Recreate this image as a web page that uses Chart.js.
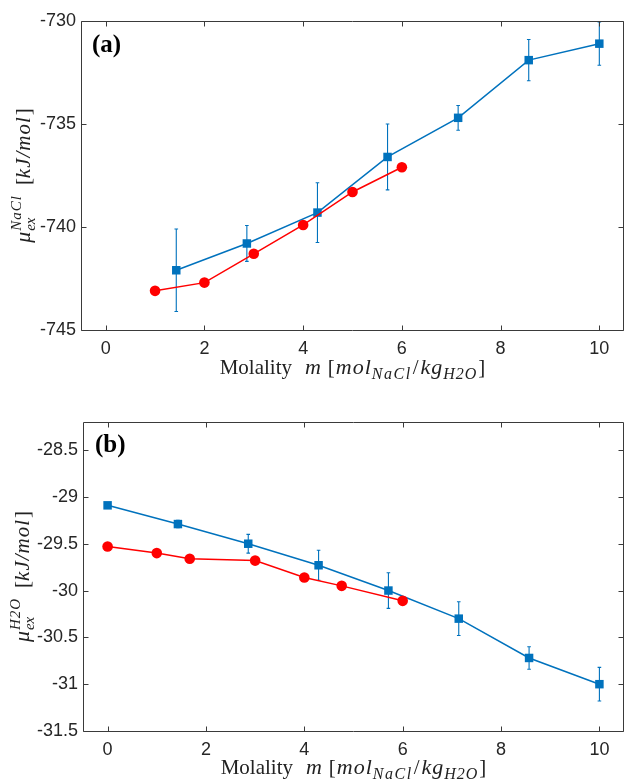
<!DOCTYPE html>
<html><head><meta charset="utf-8">
<script src="https://cdn.jsdelivr.net/npm/chart.js@4"></script>
<style>
html,body{margin:0;padding:0;background:#fff;}
#wrap{position:relative;width:625px;height:780px;overflow:hidden;}
canvas{position:absolute;left:0;}
</style></head><body>
<div id="wrap">
<canvas id="ca" width="640" height="390" style="top:0"></canvas>
<canvas id="cb" width="640" height="390" style="top:390px"></canvas>
</div>
<script>
// ---- data ----
const xTicks = [0, 2, 4, 6, 8, 10];
const yTicksA = [-745, -740, -735, -730];
const yTicksB = [-31.5, -31, -30.5, -30, -29.5, -29, -28.5];

// panel (a): NaCl excess chemical potential
const molA_blue = [1.43, 2.86, 4.29, 5.71, 7.14, 8.57, 10];
const muNaCl_blue = [-742.1, -740.8, -739.3, -736.6, -734.7, -731.9, -731.1];
const errNaCl_blue = [2.0, 0.87, 1.45, 1.6, 0.6, 1.0, 1.05];
const molA_red = [1, 2, 3, 4, 5, 6];
const muNaCl_red = [-743.1, -742.7, -741.3, -739.9, -738.3, -737.1];

// panel (b): H2O excess chemical potential
const molB_blue = [0, 1.43, 2.86, 4.29, 5.71, 7.14, 8.57, 10];
const muH2O_blue = [-29.09, -29.29, -29.5, -29.73, -30.0, -30.3, -30.72, -31.0];
const errH2O_blue = [0.03, 0.04, 0.1, 0.16, 0.19, 0.18, 0.12, 0.18];
const molB_red = [0, 1, 1.67, 3, 4, 4.76, 6];
const muH2O_red = [-29.53, -29.6, -29.66, -29.68, -29.86, -29.95, -30.11];

const BLUE = '#0072BD';
const RED = '#FF0000';
const AXIS = '#3a3a3a';
const SERIF = '"Liberation Serif", "DejaVu Serif", serif';

function segW(ctx, s){
  ctx.font = s.font;
  ctx.letterSpacing = (s.ls || 0) + 'px';
  const m = ctx.measureText(s.t).width;
  ctx.letterSpacing = '0px';
  return m;
}
function richWidth(ctx, segs){
  let w = 0;
  for (const s of segs){ const m = segW(ctx, s); if (!s.noAdv) w += m + (s.gap||0); }
  return w;
}
function drawRich(ctx, segs, x0, base){
  let x = x0;
  for (const s of segs){
    const m = segW(ctx, s);
    ctx.font = s.font;
    ctx.letterSpacing = (s.ls || 0) + 'px';
    ctx.fillText(s.t, x, base + (s.dy||0));
    ctx.letterSpacing = '0px';
    if (!s.noAdv) x += m + (s.gap||0);
  }
}
function xLabelSegs(){
  const R = '21px ' + SERIF, I = 'italic 22px ' + SERIF, S = 'italic 16px ' + SERIF;
  return [
    {t:'Molality', font:R, gap:13},
    {t:'m', font:I, gap:6, ls:1},
    {t:'[', font:R, gap:1},
    {t:'mol', font:I, ls:1},
    {t:'NaCl', font:S, dy:5, ls:1.5, gap:1},
    {t:'/', font:R, gap:2},
    {t:'kg', font:I, ls:1},
    {t:'H2O', font:S, dy:5, ls:1, gap:1},
    {t:']', font:R}
  ];
}
function yLabelSegs(sup){
  const R = '21px ' + SERIF, I = 'italic 22px ' + SERIF, S = 'italic 15px ' + SERIF;
  return [
    {t:'\u03BC', font:I, gap:1},
    {t:'ex', font:S, dy:5, noAdv:true},
    {t:sup, font:S, dy:-9, gap:10, ls:1},
    {t:'[', font:R},
    {t:'kJ/mol', font:'italic 21px ' + SERIF, gap:1, ls:1},
    {t:']', font:R}
  ];
}

function deco(o){
  return {
    id: 'deco' + o.id,
    beforeDatasetsDraw(chart){
      const ctx = chart.ctx, xs = chart.scales.x, ys = chart.scales.y;
      ctx.save();
      ctx.strokeStyle = BLUE; ctx.lineWidth = 1.1;
      o.blueX.forEach((x, i) => {
        const px = xs.getPixelForValue(x);
        const y1 = ys.getPixelForValue(o.blueY[i] + o.err[i]);
        const y2 = ys.getPixelForValue(o.blueY[i] - o.err[i]);
        ctx.beginPath();
        ctx.moveTo(px, y1); ctx.lineTo(px, y2);
        ctx.moveTo(px - 1.8, y1); ctx.lineTo(px + 1.8, y1);
        ctx.moveTo(px - 1.8, y2); ctx.lineTo(px + 1.8, y2);
        ctx.stroke();
      });
      ctx.restore();
    },
    afterDraw(chart){
      const ctx = chart.ctx, a = chart.chartArea, xs = chart.scales.x, ys = chart.scales.y;
      ctx.save();
      ctx.strokeStyle = AXIS; ctx.lineWidth = 1;
      const L = Math.round(a.left) + 0.5, R = Math.round(a.right) - 0.5, T = Math.round(a.top) + 0.5, B = Math.round(a.bottom) + 0.5;
      ctx.beginPath();
      ctx.moveTo(L, T); ctx.lineTo(R, T); ctx.lineTo(R, B); ctx.lineTo(L, B); ctx.closePath();
      const tl = 5;
      xTicks.forEach(v => {
        const p = Math.round(xs.getPixelForValue(v)) + 0.5;
        ctx.moveTo(p, B); ctx.lineTo(p, B - tl);
        ctx.moveTo(p, T); ctx.lineTo(p, T + tl);
      });
      o.yTicks.forEach(v => {
        const p = Math.round(ys.getPixelForValue(v)) + 0.5;
        ctx.moveTo(L, p); ctx.lineTo(L + tl, p);
        ctx.moveTo(R, p); ctx.lineTo(R - tl, p);
      });
      ctx.stroke();

      // panel label
      ctx.fillStyle = '#000';
      ctx.font = 'bold 25px ' + SERIF;
      ctx.textAlign = 'left'; ctx.textBaseline = 'alphabetic';
      ctx.fillText(o.panel, a.left + o.panelDx, a.top + o.panelDy);

      // x label
      ctx.fillStyle = '#222';
      const xs2 = xLabelSegs();
      const w = richWidth(ctx, xs2);
      drawRich(ctx, xs2, (a.left + a.right) / 2 - w / 2, o.xLabBase);

      // y label (rotated)
      const ys2 = yLabelSegs(o.sup);
      const wy = richWidth(ctx, ys2);
      ctx.save();
      ctx.translate(o.yLabX, (a.top + a.bottom) / 2);
      ctx.rotate(-Math.PI / 2);
      drawRich(ctx, ys2, -wy / 2, 0);
      ctx.restore();
      ctx.restore();
    }
  };
}

function build(id, o){
  return new Chart(document.getElementById(id), {
    type: 'line',
    data: { datasets: [
      { data: o.redX.map((x, i) => ({x, y: o.redY[i]})), borderColor: RED, backgroundColor: RED,
        pointBackgroundColor: RED, pointBorderWidth: 0, pointStyle: 'circle', pointRadius: 5.3,
        borderWidth: 1.5, tension: 0 },
      { data: o.blueX.map((x, i) => ({x, y: o.blueY[i]})), borderColor: BLUE, backgroundColor: BLUE,
        pointBackgroundColor: BLUE, pointBorderWidth: 0, pointStyle: 'rect', pointRadius: 6,
        borderWidth: 1.5, tension: 0 }
    ]},
    options: {
      responsive: false, animation: false, devicePixelRatio: 1,
      layout: { padding: { top: o.padTop, right: 16, left: 0, bottom: 0 } },
      plugins: { legend: { display: false }, tooltip: { enabled: false } },
      scales: {
        x: { type: 'linear', min: -0.5, max: 10.5,
          afterBuildTicks: s => { s.ticks = xTicks.map(v => ({value: v})); },
          afterFit: s => { s.height = o.xH; },
          grid: { display: false, drawTicks: false }, border: { display: false },
          ticks: { padding: 8, autoSkip: false, maxRotation: 0, color: '#262626',
            font: { family: 'Liberation Sans', size: 18 }, callback: v => String(v) } },
        y: { type: 'linear', min: o.yMin, max: o.yMax,
          afterBuildTicks: s => { s.ticks = o.yTicks.map(v => ({value: v})); },
          afterFit: s => { s.width = o.yW; },
          grid: { display: false, drawTicks: false }, border: { display: false },
          ticks: { padding: 5, autoSkip: false, color: '#262626',
            font: { family: 'Liberation Sans', size: 18 }, callback: v => String(v) } }
      }
    },
    plugins: [deco(o)]
  });
}

build('ca', { id: 'a', redX: molA_red, redY: muNaCl_red, blueX: molA_blue, blueY: muNaCl_blue, err: errNaCl_blue,
  yMin: -745, yMax: -730, yTicks: yTicksA, padTop: 21, xH: 60, yW: 81,
  panel: '(a)', panelDx: 11, panelDy: 31, xLabBase: 374, sup: 'NaCl', yLabX: 30 });
build('cb', { id: 'b', redX: molB_red, redY: muH2O_red, blueX: molB_blue, blueY: muH2O_blue, err: errH2O_blue,
  yMin: -31.5, yMax: -28.2, yTicks: yTicksB, padTop: 32, xH: 49, yW: 83,
  panel: '(b)', panelDx: 12, panelDy: 30, xLabBase: 384, sup: 'H2O', yLabX: 29 });
</script>
</body></html>
